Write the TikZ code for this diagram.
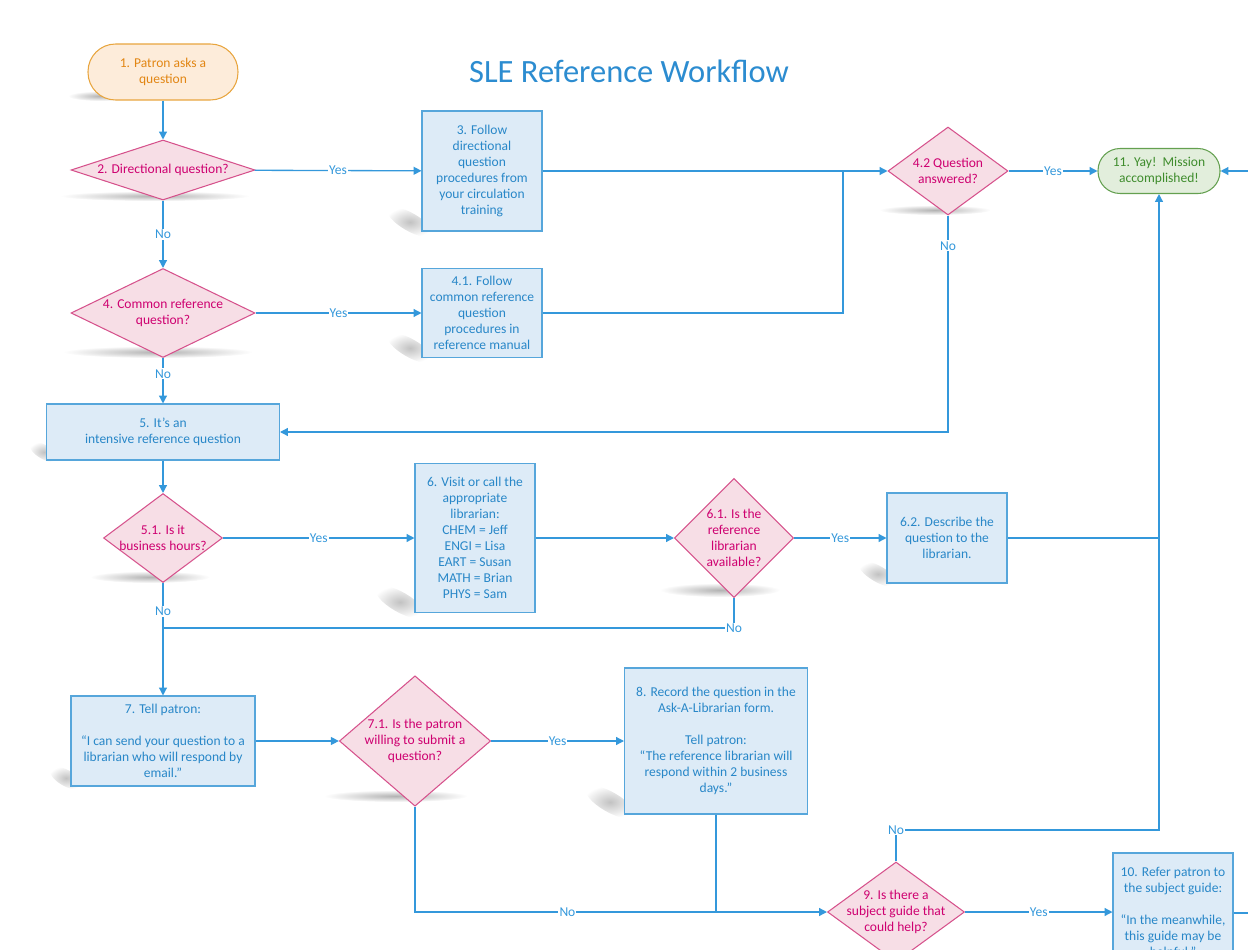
\documentclass[tikz,border=0pt]{standalone}
\usepackage{fontspec}
\setmainfont{Carlito}
\usetikzlibrary{shapes.geometric,arrows.meta}

\definecolor{flowline}{RGB}{52,152,219}
\definecolor{boxfill}{RGB}{221,235,247}
\definecolor{boxline}{RGB}{86,166,219}
\definecolor{boxtext}{RGB}{40,135,200}
\definecolor{decfill}{RGB}{247,222,230}
\definecolor{decline}{RGB}{214,82,140}
\definecolor{dectext}{RGB}{206,0,112}
\definecolor{startfill}{RGB}{253,236,218}
\definecolor{startline}{RGB}{232,165,62}
\definecolor{starttext}{RGB}{226,134,20}
\definecolor{endfill}{RGB}{226,238,220}
\definecolor{endline}{RGB}{100,160,80}
\definecolor{endtext}{RGB}{62,140,44}
\definecolor{titleblue}{RGB}{44,140,208}

\tikzset{
  every node/.style={font=\fontsize{7.7}{9.1}\selectfont},
  procbox/.style={rectangle, draw=boxline, fill=boxfill, text=boxtext, line width=0.6pt, align=center, inner sep=1pt},
  decision/.style={diamond, draw=decline, fill=decfill, text=dectext, line width=0.6pt, align=center, inner sep=0pt},
  startbox/.style={rectangle, rounded corners=0.55cm, draw=startline, fill=startfill, text=starttext, line width=0.6pt, align=center},
  endbox/.style={rectangle, rounded corners=0.44cm, draw=endline, fill=endfill, text=endtext, line width=0.6pt, align=center},
  line/.style={draw=flowline, line width=0.75pt},
  arr/.style={line, -{Triangle[length=4.5pt,width=4.5pt]}},
  lbl/.style={fill=white, text=flowline, inner sep=0.6pt},
  blob/.style={inner color=black!30, outer color=white},
  boxblob/.style={inner color=black!24, outer color=white},
}

\begin{document}
\begin{tikzpicture}[x=0.02cm, y=-0.02cm]
  \useasboundingbox (0,0) rectangle (1248,950);
  \clip (0,0) rectangle (1248,950);

  % shadows
  \shade[blob] (100,96) ellipse (32 and 5);
  \shade[blob] (155,196) ellipse (95 and 5);
  \shade[blob] (158,352) ellipse (95 and 6);
  \shade[blob] (935,210) ellipse (56 and 5);
  \shade[blob] (150,577) ellipse (60 and 6);
  \shade[blob] (720,590) ellipse (60 and 7);
  \shade[blob] (396,796) ellipse (72 and 6);
  \shade[boxblob, rotate around={-30:(410,222)}] (410,222) ellipse (26 and 9);
  \shade[boxblob, rotate around={-30:(410,348)}] (410,348) ellipse (26 and 9);
  \shade[boxblob, rotate around={-30:(44,452)}] (44,452) ellipse (16 and 7);
  \shade[boxblob, rotate around={-30:(400,602)}] (400,602) ellipse (28 and 10);
  \shade[boxblob, rotate around={-30:(878,574)}] (878,574) ellipse (22 and 8);
  \shade[boxblob, rotate around={-30:(66,778)}] (66,778) ellipse (18 and 8);
  \shade[boxblob, rotate around={-30:(610,802)}] (610,802) ellipse (28 and 10);

  \node[font=\fontsize{18.5}{22}\selectfont, text=titleblue] (title) at (629,71) {SLE Reference Workflow};

  % nodes
  \node[startbox, minimum width=3cm, minimum height=1.12cm] (n1) at (163,72) {1. Patron asks a\\question};
  \node[decision, minimum width=3.68cm, minimum height=1.2cm, aspect=3.07] (d2) at (163,170) {2. Directional question?};
  \node[procbox, minimum width=2.4cm, minimum height=2.4cm] (b3) at (482,171) {3. Follow\\directional\\question\\procedures from\\your circulation\\training};
  \node[decision, minimum width=3.68cm, minimum height=1.78cm, aspect=2.07] (d4) at (163,313) {4. Common reference\\question?};
  \node[procbox, minimum width=2.4cm, minimum height=1.78cm] (b41) at (482,313) {4.1. Follow\\common reference\\question\\procedures in\\reference manual};
  \node[decision, minimum width=2.4cm, minimum height=1.76cm, aspect=1.36] (d42) at (948,171) {4.2 Question\\answered?};
  \node[endbox, minimum width=2.44cm, minimum height=0.9cm] (n11) at (1159,171) {11. Yay!\ \ Mission\\accomplished!};
  \node[procbox, minimum width=4.66cm, minimum height=1.12cm] (b5) at (163,432) {5. It’s an\\intensive reference question};
  \node[decision, minimum width=2.38cm, minimum height=1.78cm, aspect=1.34, inner sep=-1pt] (d51) at (163,538) {5.1. Is it\\business hours?};
  \node[procbox, minimum width=2.4cm, minimum height=2.98cm] (b6) at (475,538) {6. Visit or call the\\appropriate\\librarian:\\CHEM = Jeff\\ENGI = Lisa\\EART = Susan\\MATH = Brian\\PHYS = Sam};
  \node[decision, minimum width=2.38cm, minimum height=2.38cm] (d61) at (734,538) {6.1. Is the\\reference\\librarian\\available?};
  \node[procbox, minimum width=2.4cm, minimum height=1.8cm] (b62) at (947,538) {6.2. Describe the\\question to the\\librarian.};
  \node[procbox, minimum width=3.68cm, minimum height=1.8cm] (b7) at (163,741) {7. Tell patron:\\[9pt]“I can send your question to a\\librarian who will respond by\\email.”};
  \node[decision, minimum width=3cm, minimum height=2.58cm, aspect=1.16] (d71) at (415,741) {7.1. Is the patron\\willing to submit a\\question?};
  \node[procbox, minimum width=3.66cm, minimum height=2.92cm] (b8) at (716,741) {8. Record the question in the\\Ask-A-Librarian form.\\[9pt]Tell patron:\\“The reference librarian will\\respond within 2 business\\days.”};
  \node[decision, minimum width=2.74cm, minimum height=2cm, aspect=1.37, inner sep=-3pt] (d9) at (896,912) {9. Is there a\\subject guide that\\could help?};
  \node[procbox, minimum width=2.4cm, minimum height=2.4cm] (b10) at (1173,913) {10. Refer patron to\\the subject guide:\\[9pt]“In the meanwhile,\\this guide may be\\helpful.”};

  % junctions
  \coordinate (j1) at (843,171);
  \coordinate (j2) at (163,628);
  \coordinate (j3) at (716,912);
  \coordinate (j4) at (1159,830);
  \coordinate (j5) at (1270,171);

  % connectors
  \draw[arr] (n1) -- (d2);
  \draw[arr] (d2) -- node[lbl] {Yes} (b3);
  \draw[arr] (d2) -- node[lbl] {No} (d4);
  \draw[arr] (d4) -- node[lbl] {Yes} (b41);
  \draw[arr] (b3) -- (d42);
  \draw[line] (b41.east) -| (j1);
  \draw[arr] (d42) -- node[lbl] {Yes} (n11);
  \draw[arr] (d42.south) |- node[lbl, pos=0.07] {No} (b5.east);
  \draw[arr] (d4) -- node[lbl, pos=0.35] {No} (b5);
  \draw[arr] (b5) -- (d51);
  \draw[arr] (d51) -- node[lbl] {Yes} (b6);
  \draw[arr] (b6) -- (d61);
  \draw[arr] (d61) -- node[lbl] {Yes} (b62);
  \draw[line] (b62.east) -- (b62.east -| n11.south);
  \draw[line] (d61.south) |- node[lbl, pos=0.5] {No} (j2);
  \draw[arr] (d51) -- node[lbl, pos=0.25] {No} (b7);
  \draw[arr] (b7) -- (d71);
  \draw[arr] (d71) -- node[lbl] {Yes} (b8);
  \draw[arr] (d71.south) |- node[lbl, pos=0.685] {No} (d9.west);
  \draw[line] (b8) -- (j3);
  \draw[arr] (d9.east) -- node[lbl] {Yes} (d9.east -| b10.west);
  \draw[arr] (d9.north) |- node[lbl, pos=0.5] {No} (j4) -- (n11.south);
  \draw[arr] (b10.east) -| (j5) -- (n11.east);
\end{tikzpicture}
\end{document}
